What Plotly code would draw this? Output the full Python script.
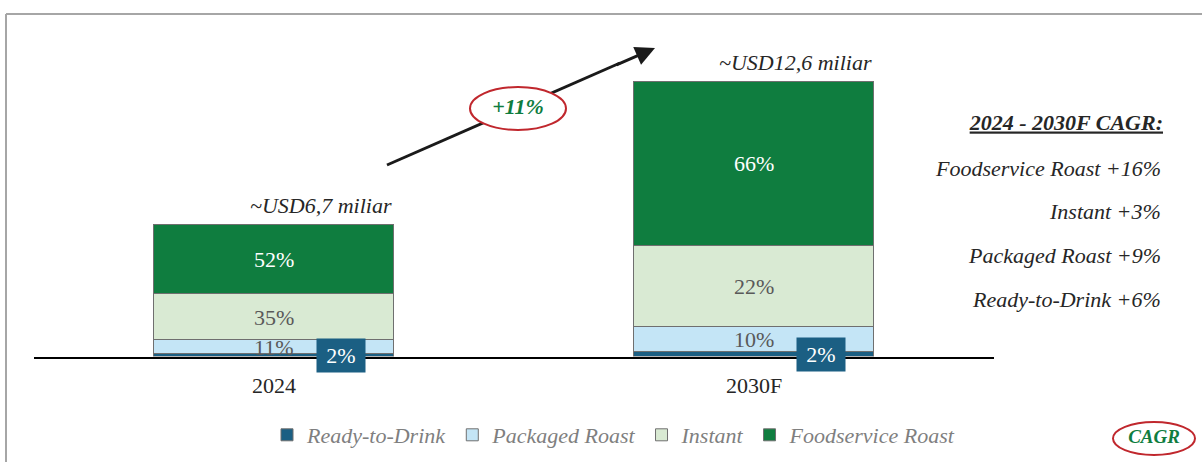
import plotly.graph_objects as go

# ---------------- data ----------------
categories = ["2024", "2030F"]
series_names = ["Ready-to-Drink", "Packaged Roast", "Instant", "Foodservice Roast"]
rtd = [0.11, 0.22]
packaged = [0.73, 1.27]
instant = [2.34, 4.16]
foodservice = [3.52, 8.35]
rtd_pct = ["2%", "2%"]
packaged_pct = ["11%", "10%"]
instant_pct = ["35%", "22%"]
foodservice_pct = ["52%", "66%"]
total_labels = ["~USD6,7 miliar", "~USD12,6 miliar"]
growth_label = "+11%"
cagr_title = "2024 - 2030F CAGR:"
cagr_lines = ["Foodservice Roast +16%", "Instant +3%", "Packaged Roast +9%", "Ready-to-Drink +6%"]
cagr_badge = "CAGR"

# ---------------- style ----------------
W, H = 1202, 462
FONT = "Liberation Serif"
FS = 22
colors = ["#1B5F83", "#C4E5F6", "#D9EAD3", "#0F7D3F"]
GREEN = "#0F7D3F"
RED = "#C0272D"
DARK = "#262626"
GREY_TXT = "#595959"


def px(x):
    return x / W


def py(y):
    return 1 - y / H


xs = list(range(len(categories)))
series = [rtd, packaged, instant, foodservice]

fig = go.Figure()
for name, vals, col in zip(series_names, series, colors):
    fig.add_trace(go.Bar(
        x=xs, y=vals, name=name, width=0.5,
        marker=dict(color=col, line=dict(color="#6f6f6f", width=1)),
        hoverinfo="skip",
    ))

# bold italic call-out texts on a full-page pixel overlay
fig.add_trace(go.Scatter(
    x=[518, 1163, 1154], y=[108, 124, 438], xaxis="x2", yaxis="y2",
    mode="text", text=[growth_label, "<u>" + cagr_title + "</u>", cagr_badge],
    textposition=["middle center", "middle left", "middle center"],
    textfont=dict(family=FONT, size=[FS, FS, 19], color=[GREEN, DARK, GREEN],
                  style="italic", weight="bold"),
    showlegend=False, hoverinfo="skip", cliponaxis=False,
))

annotations = []
# segment labels
cum = [0.0] * len(xs)
label_sets = [None, packaged_pct, instant_pct, foodservice_pct]
label_colors = [None, GREY_TXT, GREY_TXT, "white"]
for vals, labs, lc in zip(series, label_sets, label_colors):
    for i in xs:
        mid = cum[i] + vals[i] / 2
        if labs is not None:
            annotations.append(dict(
                x=i, y=mid, xref="x", yref="y", text=labs[i], showarrow=False,
                font=dict(family=FONT, size=FS, color=lc),
            ))
        cum[i] += vals[i]

# ready-to-drink boxes
for i in xs:
    annotations.append(dict(
        x=i + 0.14, y=rtd[i] / 2, xref="x", yref="y", text=rtd_pct[i], showarrow=False,
        font=dict(family=FONT, size=FS, color="white"),
        bgcolor=colors[0], width=48, height=33, borderpad=0,
    ))

# totals above bars
for i in xs:
    annotations.append(dict(
        x=i + 0.25, y=cum[i], xref="x", yref="y", text=total_labels[i], showarrow=False,
        xanchor="right", yanchor="bottom", yshift=5,
        font=dict(family=FONT, size=FS, color=DARK, style="italic"),
    ))

# arrow head (line body drawn as shape)
annotations.append(dict(
    x=px(655), y=py(48), xref="paper", yref="paper",
    ax=-40, ay=17.5, axref="pixel", ayref="pixel",
    showarrow=True, arrowhead=2, arrowsize=1.3, arrowwidth=3, arrowcolor="#1a1a1a", text="",
))

# CAGR panel lines
for k, t in enumerate(cagr_lines):
    annotations.append(dict(
        x=px(1163), y=py(168 + 43.7 * k), xref="paper", yref="paper", xanchor="right",
        text=t, showarrow=False,
        font=dict(family=FONT, size=FS, color=DARK, style="italic"),
    ))

shapes = [
    # frame
    dict(type="line", xref="paper", yref="paper", x0=px(6), x1=1, y0=py(14), y1=py(14),
         line=dict(color="#a6a6a6", width=2), layer="above"),
    dict(type="line", xref="paper", yref="paper", x0=px(6), x1=px(6), y0=py(14), y1=0,
         line=dict(color="#a6a6a6", width=2), layer="above"),
    # arrow body
    dict(type="line", xref="paper", yref="paper", x0=px(387), y0=py(165), x1=px(620), y1=py(63),
         line=dict(color="#1a1a1a", width=3), layer="below"),
    # ovals
    dict(type="circle", xref="paper", yref="paper", x0=px(470), x1=px(566), y0=py(130), y1=py(87),
         fillcolor="white", line=dict(color=RED, width=2), layer="below"),
    dict(type="circle", xref="paper", yref="paper", x0=px(1113), x1=px(1195), y0=py(455), y1=py(422),
         fillcolor="white", line=dict(color=RED, width=2), layer="below"),
]

fig.update_layout(
    width=W, height=H,
    margin=dict(l=0, r=0, t=0, b=0),
    paper_bgcolor="white", plot_bgcolor="rgba(0,0,0,0)",
    barmode="stack", bargap=0,
    showlegend=True,
    legend=dict(orientation="h", x=px(614), xanchor="center", y=py(435), yanchor="middle",
                font=dict(family=FONT, size=FS, color="#7f7f7f", style="italic"),
                traceorder="normal", itemclick=False, itemdoubleclick=False),
    xaxis=dict(domain=[px(34), px(994)], range=[-0.5, 1.5], tickvals=xs, ticktext=categories,
               showgrid=False, zeroline=False, showline=True, linecolor="black", linewidth=1.5,
               ticks="", ticklabelstandoff=8, tickfont=dict(family=FONT, size=FS, color=DARK),
               fixedrange=True),
    yaxis=dict(domain=[py(356.5), py(13.9)], range=[0, 17.45], visible=False, fixedrange=True),
    xaxis2=dict(domain=[0, 1], range=[0, W], anchor="y2", visible=False, fixedrange=True),
    yaxis2=dict(domain=[0, 1], range=[H, 0], anchor="x2", visible=False, fixedrange=True),
    annotations=annotations,
    shapes=shapes,
)

fig.write_html(
    "out.html",
    config={"displayModeBar": False},
    post_script="document.body.style.margin='0';document.body.style.overflow='hidden';",
)
